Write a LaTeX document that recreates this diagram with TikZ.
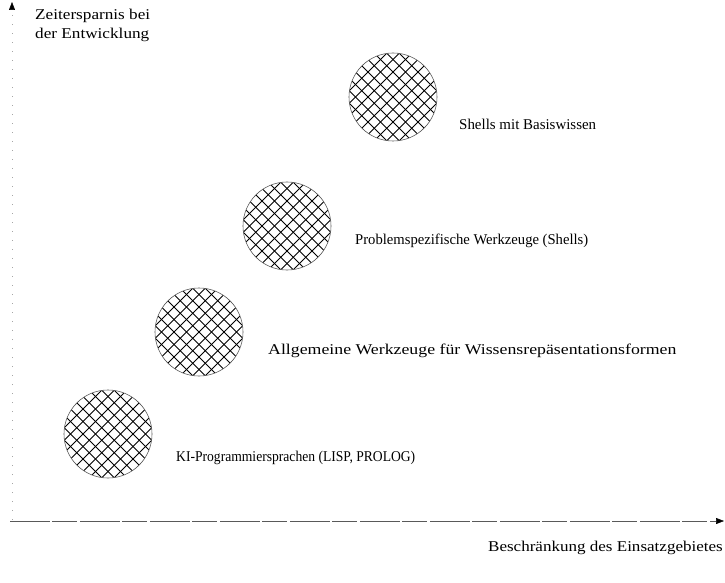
\documentclass[tikz,border=0pt]{standalone}
\usepackage{fontspec}
\setmainfont{Liberation Serif}
\usetikzlibrary{arrows.meta}
\begin{document}
\begin{tikzpicture}[x=1bp,y=-1bp,
  lbl/.style={font=\fontsize{15}{19}\selectfont, inner sep=0pt},
  axisline/.style={line width=0.5bp},
  tip/.style={-{Triangle[length=8bp,width=6bp,color=black]}}]
\useasboundingbox (0,0) rectangle (725,583);
% axes
\coordinate (yo) at (12,520);
\coordinate (yt) at (12,2);
\coordinate (xo) at (10,521);
\coordinate (xe) at (724,521);
\draw[axisline, black!35, dash pattern=on 1bp off 8bp, tip] (yo) -- (yt);
\draw[axisline, black!65, dash pattern=on 40bp off 2bp on 25bp off 3bp, tip] (xo) -- (xe);
% hatched discs
\foreach \n/\cx/\cy in {d1/393/97, d2/287/226, d3/199/332, d4/108/434}{
  \node[circle, minimum size=88bp, inner sep=0pt] (\n) at (\cx,\cy) {};
  \begin{scope}
    \clip (\cx,\cy) circle (44bp);
    \foreach \k in {-8,...,8}{
      \draw[line width=0.9bp] ({\cx+\k*12.5-60},{\cy-60}) -- ({\cx+\k*12.5+60},{\cy+60});
      \draw[line width=0.9bp] ({\cx+\k*12.5+60},{\cy-60}) -- ({\cx+\k*12.5-60},{\cy+60});
    }
  \end{scope}
  \draw[black!65, line width=0.6bp] (\cx,\cy) circle (44bp);
}
% labels
\node[lbl, anchor=west] (t1) at (459,124) {Shells mit Basiswissen};
\node[lbl, anchor=west] (t2) at (355,241) {\scalebox{0.98}[1]{Problemspezifische Werkzeuge (Shells)}};
\node[lbl, anchor=west] (t3) at (268,351) {\scalebox{1.19}[1]{Allgemeine Werkzeuge für Wissensrepäsentationsformen}};
\node[lbl, anchor=west] (t4) at (176,458) {\scalebox{0.91}[1]{KI-Programmiersprachen (LISP, PROLOG)}};
\node[lbl, anchor=north west, align=left] (ty) at (35,9) {\scalebox{1.15}[1]{Zeitersparnis bei}\\\scalebox{1.15}[1]{der Entwicklung}};
\node[lbl, anchor=east] (tx) at (723,548) {\scalebox{1.14}[1]{Beschränkung des Einsatzgebietes}};
\end{tikzpicture}
\end{document}
